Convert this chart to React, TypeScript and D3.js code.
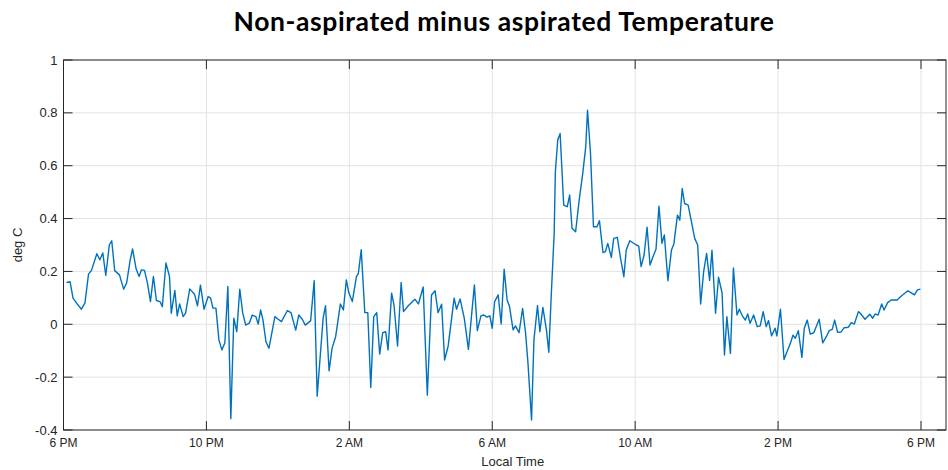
import * as d3 from 'd3';

// minutes after 6 PM and the temperature difference (deg C) read at each vertex
const minutes = [
  5, 11, 16, 22, 30, 36, 42, 47, 56, 61, 66, 71, 77, 81, 86, 94, 101, 106, 112, 116,
  122, 127, 131, 136, 141, 146, 151, 156, 162, 166, 172, 178, 181, 187, 191, 195, 201, 205, 212, 220,
  225, 230, 236, 243, 247, 251, 256, 261, 266, 271, 276, 281, 286, 291, 296, 301, 306, 312, 317, 323,
  327, 331, 335, 340, 345, 355, 360, 366, 376, 382, 390, 395, 401, 406, 415, 421, 426, 436, 440, 446,
  451, 457, 465, 470, 475, 479, 485, 492, 495, 500, 506, 511, 516, 521, 526, 531, 536, 541, 545, 551,
  555, 561, 567, 571, 579, 590, 596, 604, 611, 618, 624, 629, 635, 640, 646, 656, 660, 666, 673, 680,
  690, 695, 701, 706, 711, 716, 720, 724, 730, 735, 740, 745, 749, 755, 759, 765, 771, 776, 780, 786,
  790, 796, 800, 805, 811, 815, 819, 824, 826, 830, 834, 840, 846, 850, 854, 860, 866, 872, 877, 880,
  885, 890, 896, 900, 906, 910, 914, 920, 924, 930, 935, 941, 945, 951, 962, 966, 970, 975, 980, 985,
  991, 995, 1000, 1005, 1009, 1015, 1021, 1025, 1031, 1035, 1039, 1043, 1049, 1054, 1060, 1065, 1070, 1075, 1080, 1085,
  1089, 1095, 1100, 1106, 1110, 1114, 1120, 1125, 1131, 1135, 1140, 1145, 1149, 1153, 1159, 1165, 1170, 1175, 1180, 1184,
  1189, 1195, 1198, 1204, 1210, 1215, 1221, 1225, 1229, 1234, 1240, 1244, 1249, 1254, 1260, 1269, 1275, 1281, 1286, 1291,
  1295, 1300, 1306, 1311, 1318, 1323, 1328, 1335, 1339, 1346, 1354, 1359, 1363, 1368, 1374, 1378, 1384, 1390, 1400, 1406,
  1418, 1423, 1429, 1434, 1439,
];

const values = [
  0.158, 0.161, 0.099, 0.08, 0.057, 0.08, 0.19, 0.204, 0.267, 0.244, 0.27, 0.185, 0.301, 0.316, 0.203, 0.187, 0.133, 0.156, 0.244, 0.285,
  0.209, 0.181, 0.206, 0.204, 0.156, 0.086, 0.181, 0.09, 0.086, 0.067, 0.232, 0.181, 0.042, 0.128, 0.032, 0.077, 0.029, 0.042, 0.134, 0.114,
  0.07, 0.148, 0.057, 0.105, 0.099, 0.061, 0.061, -0.059, -0.097, -0.07, 0.143, -0.357, 0.023, -0.028, 0.133, 0.042, -0.003, 0.004, 0.035, 0.029,
  0.001, 0.054, 0.016, -0.066, -0.091, 0.029, 0.02, 0.01, 0.052, 0.044, -0.022, 0.035, 0.019, -0.003, 0.013, 0.165, -0.272, 0.023, 0.07, -0.176,
  -0.091, -0.047, 0.077, 0.054, 0.168, 0.12, 0.086, 0.181, 0.191, 0.282, 0.044, 0.044, -0.239, 0.029, 0.044, -0.113, -0.032, -0.028, -0.097, 0.118,
  0.073, -0.082, 0.158, 0.048, 0.07, 0.095, 0.077, 0.141, -0.268, 0.111, 0.127, 0.044, 0.076, -0.135, -0.082, 0.099, 0.057, 0.096, 0.023, -0.095,
  0.149, -0.024, 0.032, 0.035, 0.027, 0.032, -0.015, 0.086, 0.111, 0.001, 0.208, 0.092, 0.067, -0.021, -0.006, -0.032, 0.06, -0.034, -0.147, -0.362,
  -0.059, 0.071, -0.028, 0.064, -0.021, -0.106, 0.105, 0.344, 0.577, 0.697, 0.722, 0.451, 0.445, 0.489, 0.363, 0.35, 0.47, 0.571, 0.672, 0.81,
  0.647, 0.369, 0.369, 0.392, 0.271, 0.275, 0.306, 0.253, 0.325, 0.329, 0.256, 0.18, 0.281, 0.316, 0.3, 0.296, 0.218, 0.262, 0.367, 0.224,
  0.262, 0.284, 0.447, 0.306, 0.338, 0.165, 0.281, 0.304, 0.413, 0.394, 0.514, 0.457, 0.451, 0.394, 0.325, 0.3, 0.077, 0.199, 0.268, 0.166,
  0.28, 0.042, 0.178, 0.118, -0.116, 0.029, -0.11, 0.213, 0.035, 0.057, 0.032, 0.016, 0.039, 0.004, 0.035, -0.009, -0.006, 0.048, -0.009, 0.014,
  -0.044, -0.015, -0.044, 0.057, -0.133, -0.104, -0.07, -0.041, -0.053, -0.024, -0.125, -0.015, 0.016, -0.037, -0.032, 0.019, -0.07, -0.047, -0.024, -0.019,
  0.016, -0.03, -0.029, -0.013, -0.011, 0.006, 0.001, 0.048, 0.039, 0.019, 0.038, 0.023, 0.039, 0.035, 0.077, 0.054, 0.082, 0.092, 0.092, 0.105,
  0.127, 0.12, 0.111, 0.13, 0.133,
];

const yTicks = [-0.4, -0.2, 0, 0.2, 0.4, 0.6, 0.8, 1];

const W = 948;
const H = 470;
const plot = { left: 63.5, right: 946, top: 60, bottom: 430 };
const start = new Date(2020, 5, 1, 18, 0, 0);
const end = new Date(start.getTime() + 1482 * 60000);
const axisColor = '#262626';
const gridColor = '#e3e3e3';
const tickLen = 9;

export default function App() {
  const x = d3.scaleTime().domain([start, end]).range([plot.left, plot.right]);
  const y = d3.scaleLinear().domain([-0.4, 1]).range([plot.bottom, plot.top]);

  const pts = minutes.map((m, i) => ({ t: new Date(start.getTime() + m * 60000), v: values[i] }));
  const line = d3.line<{ t: Date; v: number }>().x(d => x(d.t)).y(d => y(d.v));

  // every 4 hours counted from 6 PM
  const xTicks = d3.timeHour.range(start, new Date(end.getTime() + 1), 4);
  const fmt = d3.timeFormat('%-I %p');

  return (
    <svg width={W} height={H} style={{ position: 'absolute', left: 0, top: 0, background: '#fff' }}>
      <text x={504} y={31} textAnchor="middle" fontFamily="Lato, 'Open Sans', sans-serif"
        fontWeight={700} fontSize={26.5} letterSpacing={0.6} fill="#000">
        Non-aspirated minus aspirated Temperature
      </text>

      {/* grid */}
      {yTicks.map(t => (
        <line key={'gy' + t} x1={plot.left} x2={plot.right} y1={y(t)} y2={y(t)} stroke={gridColor} strokeWidth={1} />
      ))}
      {xTicks.map(t => (
        <line key={'gx' + t.getTime()} x1={x(t)} x2={x(t)} y1={plot.top} y2={plot.bottom} stroke={gridColor} strokeWidth={1} />
      ))}

      <path d={line(pts) || ''} fill="none" stroke="#0072BD" strokeWidth={1.4} strokeLinejoin="round" />

      {/* box and inward ticks */}
      <rect x={plot.left} y={plot.top} width={plot.right - plot.left} height={plot.bottom - plot.top}
        fill="none" stroke={axisColor} strokeWidth={1} />
      {yTicks.map(t => (
        <g key={'ty' + t}>
          <line x1={plot.left} x2={plot.left + tickLen} y1={y(t)} y2={y(t)} stroke={axisColor} />
          <line x1={plot.right} x2={plot.right - tickLen} y1={y(t)} y2={y(t)} stroke={axisColor} />
          <text x={plot.left - 6} y={y(t)} dy="0.35em" textAnchor="end" fontFamily="'Liberation Sans', Arial, sans-serif"
            fontSize={13} fill={axisColor}>
            {String(t)}
          </text>
        </g>
      ))}
      {xTicks.map(t => (
        <g key={'tx' + t.getTime()}>
          <line x1={x(t)} x2={x(t)} y1={plot.bottom} y2={plot.bottom - tickLen} stroke={axisColor} />
          <line x1={x(t)} x2={x(t)} y1={plot.top} y2={plot.top + tickLen} stroke={axisColor} />
          <text x={x(t)} y={447} textAnchor="middle" fontFamily="'Liberation Sans', Arial, sans-serif"
            fontSize={12} fill={axisColor}>
            {fmt(t)}
          </text>
        </g>
      ))}

      <text x={(plot.left + plot.right) / 2 + 8} y={466} textAnchor="middle" fontFamily="'Liberation Sans', Arial, sans-serif"
        fontSize={13} fill={axisColor}>
        Local Time
      </text>
      <text transform={`translate(22,${(plot.top + plot.bottom) / 2}) rotate(-90)`} textAnchor="middle"
        fontFamily="'Liberation Sans', Arial, sans-serif" fontSize={13} fill={axisColor}>
        deg C
      </text>
    </svg>
  );
}
